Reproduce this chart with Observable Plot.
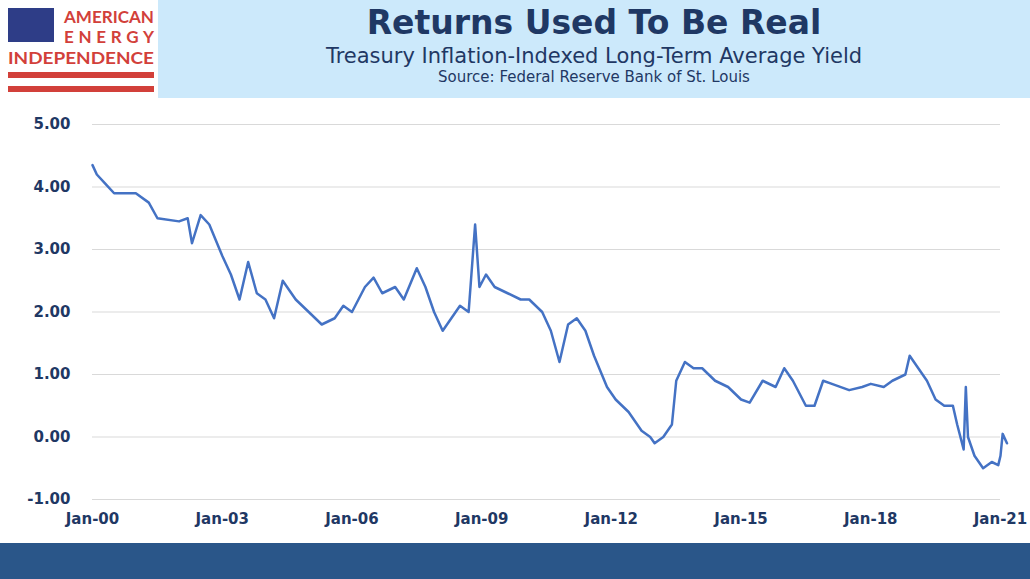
<!DOCTYPE html>
<html><head><meta charset="utf-8">
<script src="https://cdn.jsdelivr.net/npm/d3@7"></script>
<script src="https://cdn.jsdelivr.net/npm/@observablehq/plot@0.6"></script>
<style>
body{margin:0;width:1030px;height:579px;overflow:hidden;background:#fff;font-family:"DejaVu Sans",sans-serif;}
#hdr{position:absolute;left:158px;top:0;width:872px;height:98px;background:#cce9fb;text-align:center;color:#1f3864;}
#t{font-weight:bold;font-size:33px;margin-top:3px;}
#s{font-size:21px;margin-top:2px;}
#src{font-size:15px;}
#logo{position:absolute;left:6px;top:6px;}
#chart{position:absolute;left:0;top:98px;}
#bot{position:absolute;left:0;top:543px;width:1030px;height:36px;background:#2a5689;}
</style></head><body>
<div id="logo"><svg width="150" height="90">
<rect x="2" y="2" width="46" height="34" fill="#2e3d87"/>
<text x="58" y="17" font-family="Lato" font-weight="bold" font-size="17" fill="#d2403a" textLength="90" lengthAdjust="spacingAndGlyphs">AMERICAN</text>
<text x="58" y="37" font-family="Lato" font-weight="bold" font-size="17" fill="#d2403a" textLength="90">ENERGY</text>
<text x="2" y="58" font-family="Lato" font-weight="bold" font-size="17" fill="#d2403a" textLength="146" lengthAdjust="spacingAndGlyphs">INDEPENDENCE</text>
<rect x="2" y="66" width="146" height="6" fill="#d2403a"/>
<rect x="2" y="80" width="146" height="6" fill="#d2403a"/>
</svg></div>
<div id="hdr"><div id="t">Returns Used To Be Real</div><div id="s">Treasury Inflation-Indexed Long-Term Average Yield</div><div id="src">Source: Federal Reserve Bank of St. Louis</div></div>
<div id="chart"></div>
<div id="bot"></div>
<script>
const years=[2000.0,2000.1,2000.3,2000.5,2001.0,2001.3,2001.5,2002.0,2002.2,2002.3,2002.5,2002.7,2003.0,2003.2,2003.4,2003.6,2003.8,2004.0,2004.2,2004.4,2004.7,2005.0,2005.3,2005.6,2005.8,2006.0,2006.3,2006.5,2006.7,2007.0,2007.2,2007.5,2007.7,2007.9,2008.1,2008.3,2008.5,2008.7,2008.85,2008.95,2009.1,2009.3,2009.6,2009.9,2010.1,2010.4,2010.6,2010.8,2011.0,2011.2,2011.4,2011.6,2011.9,2012.1,2012.4,2012.7,2012.9,2013.0,2013.2,2013.4,2013.5,2013.7,2013.9,2014.1,2014.4,2014.7,2015.0,2015.2,2015.5,2015.8,2016.0,2016.2,2016.5,2016.7,2016.9,2017.1,2017.5,2017.8,2018.0,2018.3,2018.5,2018.8,2018.9,2019.1,2019.3,2019.5,2019.7,2019.9,2020.0,2020.15,2020.2,2020.25,2020.4,2020.6,2020.8,2020.95,2021.0,2021.05,2021.15];
const yields=[4.35,4.2,4.05,3.9,3.9,3.75,3.5,3.45,3.5,3.1,3.55,3.4,2.9,2.6,2.2,2.8,2.3,2.2,1.9,2.5,2.2,2.0,1.8,1.9,2.1,2.0,2.4,2.55,2.3,2.4,2.2,2.7,2.4,2.0,1.7,1.9,2.1,2.0,3.4,2.4,2.6,2.4,2.3,2.2,2.2,2.0,1.7,1.2,1.8,1.9,1.7,1.3,0.8,0.6,0.4,0.1,0.0,-0.1,0.0,0.2,0.9,1.2,1.1,1.1,0.9,0.8,0.6,0.55,0.9,0.8,1.1,0.9,0.5,0.5,0.9,0.85,0.75,0.8,0.85,0.8,0.9,1.0,1.3,1.1,0.9,0.6,0.5,0.5,0.2,-0.2,0.8,0.0,-0.3,-0.5,-0.4,-0.45,-0.3,0.05,-0.1];
const yTicks=[-1,0,1,2,3,4,5];
const xTickYears=[2000,2003,2006,2009,2012,2015,2018,2021];
const toDate=y=>{const yr=Math.floor(y);return new Date(yr,0,1).getTime()+(y-yr)*365.25*864e5;};
const data=years.map((y,i)=>({d:new Date(toDate(y)),v:yields[i]}));
const xt=xTickYears.map(y=>new Date(y,0,1));
const p=Plot.plot({width:1030,height:445,marginLeft:92,marginRight:30,marginTop:26,marginBottom:44,
style:{fontFamily:"DejaVu Sans",fontSize:"15px",fontWeight:"bold",color:"#1f3864"},
x:{type:"time",domain:[new Date(2000,0,1),new Date(2021,0,1)],ticks:xt,tickFormat:d=>"Jan-"+String(d.getFullYear()).slice(2),tickSize:0,tickPadding:14,label:null},
y:{domain:[-1,5],ticks:yTicks,tickFormat:d=>d.toFixed(2),tickSize:0,tickPadding:22,label:null},
marks:[Plot.gridY(yTicks,{stroke:"#d9d9d9",strokeOpacity:1}),
Plot.line(data,{x:"d",y:"v",stroke:"#4472c4",strokeWidth:2.5,clip:false})]});
document.getElementById("chart").append(p);
</script></body></html>
